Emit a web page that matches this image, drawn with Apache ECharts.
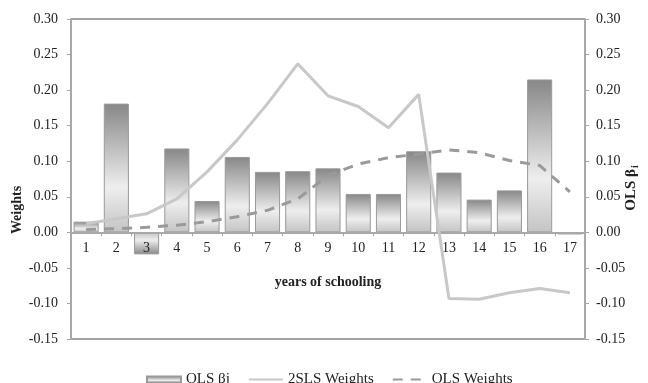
<!DOCTYPE html>
<html>
<head>
<meta charset="utf-8">
<script src="https://cdn.jsdelivr.net/npm/echarts@6/dist/echarts.min.js"></script>
<style>
  html, body { margin: 0; padding: 0; background: #fff; }
  #chart { width: 648px; height: 383px; }
</style>
</head>
<body>
<div id="chart"></div>
<script>
// Years of schooling on the horizontal axis
const years = ['1','2','3','4','5','6','7','8','9','10','11','12','13','14','15','16','17'];

// OLS coefficient for each schooling year (bars, right axis)
const olsBeta = [0.015, 0.181, -0.031, 0.118, 0.044, 0.106, 0.085, 0.086, 0.090,
                 0.054, 0.054, 0.114, 0.084, 0.046, 0.059, 0.215, -0.003];

// 2SLS weights (solid line, left axis)
const tslsWeights = [0.012, 0.019, 0.026, 0.047, 0.085, 0.130, 0.181, 0.237, 0.192,
                     0.177, 0.147, 0.194, -0.093, -0.094, -0.085, -0.079, -0.085];

// OLS weights (dashed line, left axis)
const olsWeights = [0.004, 0.005, 0.007, 0.010, 0.015, 0.022, 0.031, 0.047, 0.080,
                    0.096, 0.105, 0.110, 0.116, 0.112, 0.101, 0.094, 0.057];

// Shared value range of both vertical axes
const yMin = -0.15, yMax = 0.30, yStep = 0.05;

const serif = '"Liberation Serif", "DejaVu Serif", serif';
const textColor = '#222';

const gridTop = 19, gridBottom = 44, chartH = 383;
const plotH = chartH - gridTop - gridBottom;
// distance from the bottom frame up to the zero line
const zeroLift = plotH * (0 - yMin) / (yMax - yMin);

const barFill = new echarts.graphic.LinearGradient(0, 0, 0, 1, [
  { offset: 0, color: '#878787' },
  { offset: 0.65, color: '#eeeeee' },
  { offset: 1, color: '#c4c4c4' }
]);
const barFillNeg = new echarts.graphic.LinearGradient(0, 1, 0, 0, [
  { offset: 0, color: '#878787' },
  { offset: 0.65, color: '#eeeeee' },
  { offset: 1, color: '#c4c4c4' }
]);

const yAxisCommon = {
  type: 'value',
  min: yMin,
  max: yMax,
  interval: yStep,
  splitLine: { show: false },
  axisLine: { show: true, lineStyle: { color: '#a8a8a8', width: 2 } },
  axisTick: { show: true, length: 4, lineStyle: { color: '#a8a8a8' } },
  axisLabel: {
    fontFamily: serif, fontSize: 14, color: textColor,
    formatter: v => v.toFixed(2)
  },
  nameLocation: 'middle',
  nameMoveOverlap: false,
  nameTextStyle: { fontFamily: serif, fontSize: 14, fontWeight: 'bold', color: textColor }
};

const chart = echarts.init(document.getElementById('chart'));
chart.setOption({
  animation: false,
  grid: {
    left: 71, right: 63, top: gridTop, bottom: gridBottom,
    outerBoundsMode: 'none',
    containLabel: false,
    show: true, borderColor: '#444', borderWidth: 1, backgroundColor: 'transparent'
  },
  legend: {
    top: 367,
    left: 141,
    itemGap: 18,
    itemWidth: 34,
    itemHeight: 6,
    textStyle: { fontFamily: serif, fontSize: 15, color: textColor },
    data: [
      { name: 'OLS βj', icon: 'rect' },
      { name: '2SLS Weights' },
      { name: 'OLS Weights' }
    ]
  },
  xAxis: {
    type: 'category',
    data: years,
    position: 'bottom',
    offset: -zeroLift,
    z: 3,
    name: 'years of schooling',
    nameLocation: 'middle',
    nameMoveOverlap: false,
    nameGap: 43,
    nameTextStyle: { fontFamily: serif, fontSize: 14, fontWeight: 'bold', color: textColor },
    axisLine: { onZero: false, lineStyle: { color: '#a8a8a8', width: 2 } },
    axisTick: { show: true, length: 4, inside: false, lineStyle: { color: '#a8a8a8' } },
    axisLabel: { fontFamily: serif, fontSize: 14, color: textColor, margin: 9 },
    splitLine: { show: false }
  },
  yAxis: [
    Object.assign({}, yAxisCommon, {
      position: 'left',
      name: 'Weights',
      nameGap: 47,
      nameTextStyle: Object.assign({}, yAxisCommon.nameTextStyle, { padding: [0, 62, 0, 0] }),
      axisLabel: Object.assign({}, yAxisCommon.axisLabel, { margin: 13 })
    }),
    Object.assign({}, yAxisCommon, {
      position: 'right',
      name: 'OLS β{sub|i}',
      nameGap: 38,
      nameRotate: 90,
      axisLabel: Object.assign({}, yAxisCommon.axisLabel, { margin: 11 }),
      nameTextStyle: Object.assign({}, yAxisCommon.nameTextStyle, {
        fontSize: 15,
        padding: [0, 18, 0, 0],
        rich: {
          sub: { fontFamily: serif, fontSize: 10, fontWeight: 'bold', color: textColor, verticalAlign: 'bottom', padding: [7, 0, 0, 1] }
        }
      })
    })
  ],
  series: [
    {
      name: 'OLS βj',
      type: 'bar',
      yAxisIndex: 1,
      barCategoryGap: '17%',
      data: olsBeta.map(v => ({
        value: v,
        itemStyle: { color: v < 0 ? barFillNeg : barFill }
      })),
      itemStyle: { color: barFill, borderColor: '#9a9a9a', borderWidth: 1 },
      z: 2
    },
    {
      name: '2SLS Weights',
      type: 'line',
      yAxisIndex: 0,
      data: tslsWeights,
      symbol: 'none',
      lineStyle: { color: '#c8c8c8', width: 3 },
      itemStyle: { color: 'rgba(0,0,0,0)', borderWidth: 0 },
      z: 4
    },
    {
      name: 'OLS Weights',
      type: 'line',
      yAxisIndex: 0,
      data: olsWeights,
      symbol: 'none',
      lineStyle: { color: '#9a9a9a', width: 3, type: [10, 8] },
      itemStyle: { color: 'rgba(0,0,0,0)', borderWidth: 0 },
      z: 5
    }
  ]
});
</script>
</body>
</html>
